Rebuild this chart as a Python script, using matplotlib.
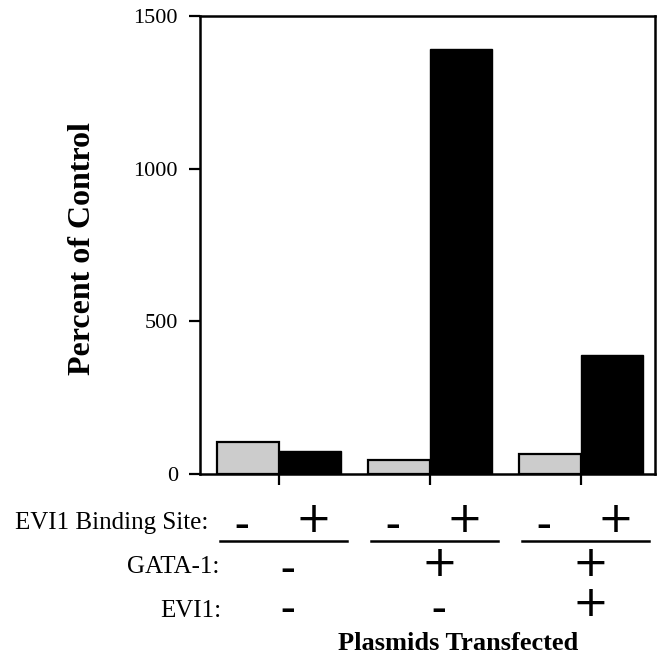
import numpy as np
import matplotlib.pyplot as plt
from matplotlib.lines import Line2D

# values (percent of control)
groups = ['grp1', 'grp2', 'grp3']
site_minus = [105, 46, 65]      # gray bars, no EVI1 binding site
site_plus = [75, 1392, 390]     # black bars, with EVI1 binding site
yticks = [0, 500, 1000, 1500]

binding_signs = ['-', '+', '-', '+', '-', '+']
gata_signs = ['-', '+', '+']
evi_signs = ['-', '-', '+']

W, H = 662, 656
fig = plt.figure(figsize=(W / 100, H / 100), dpi=100)
ax = fig.add_axes([200 / W, 1 - 474 / H, 455 / W, 458 / H])

serif = 'Liberation Serif'
x = np.arange(len(groups))
bw = 0.41
ax.bar(x - bw / 2, site_minus, bw, color='#cccccc', edgecolor='black', lw=1.6)
ax.bar(x + bw / 2, site_plus, bw, color='black', edgecolor='black', lw=1.0)

ax.set_xlim(-0.523, 2.49)
ax.set_ylim(0, 1500)
ax.set_yticks(yticks)
ax.set_xticks(x)
ax.set_xticklabels([])
ax.tick_params(axis='both', direction='out', length=8, width=1.6, pad=8,
               labelsize=16)
for lab in ax.get_yticklabels():
    lab.set_fontfamily(serif)
for s in ax.spines.values():
    s.set_linewidth(1.8)

fig.text(83 / W, 1 - 249 / H, 'Percent of Control', rotation=90, ha='center',
         va='center', fontfamily=serif, fontweight='bold', fontsize=23)


def fx(xd):
    return (200 + (xd + 0.523) / (2.49 + 0.523) * 455) / W


def fy(py):
    return 1 - py / H


txt = dict(fontfamily=serif, fontsize=18, va='baseline')
fig.text(208 / W, fy(529), 'EVI1 Binding Site:', ha='right', **txt)
fig.text(219 / W, fy(573), 'GATA-1:', ha='right', **txt)
fig.text(221 / W, fy(617), 'EVI1:', ha='right', **txt)
fig.text(458 / W, fy(650), 'Plasmids Transfected', ha='center', va='baseline',
         fontfamily=serif, fontsize=19, fontweight='bold')


def sign(xd, yc, s):
    if s == '+':
        fig.text(fx(xd), fy(yc), '+', ha='center', va='center',
                 fontfamily='DejaVu Sans', fontsize=31)
    else:
        fig.text(fx(xd), fy(yc + 6), '\u2013', ha='center', va='center',
                 fontfamily='DejaVu Sans', fontsize=21, fontweight='bold')


for i, s in enumerate(binding_signs):
    g = i // 2
    off = -bw / 2 - 0.04 if i % 2 == 0 else bw / 2 + 0.02
    sign(x[g] + off, 520, s)
for g, s in enumerate(gata_signs):
    sign(x[g] + 0.06, 564, s)
for g, s in enumerate(evi_signs):
    sign(x[g] + 0.06, 604, s)

for g in x:
    x0 = fx(g - 0.39)
    x1 = fx(g + 0.45)
    fig.add_artist(Line2D([x0, x1], [fy(541), fy(541)], color='black', lw=1.8,
                          transform=fig.transFigure))

fig.savefig('out.png', dpi=100)
